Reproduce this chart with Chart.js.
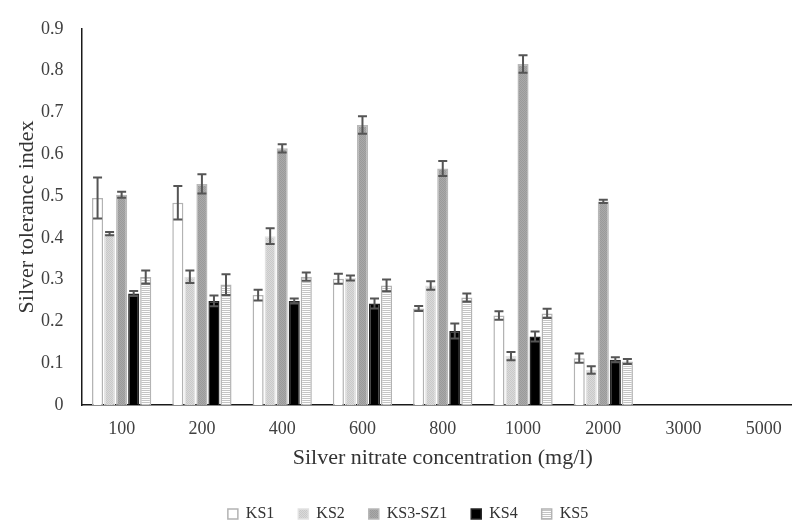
<!DOCTYPE html>
<html>
<head>
<meta charset="utf-8">
<script src="https://cdn.jsdelivr.net/npm/chart.js@4"></script>
<style>
  body { margin: 0; background: #fff; }
  #wrap { width: 792px; height: 524px; overflow: hidden; }
</style>
</head>
<body>
<div id="wrap"><canvas id="grafico" width="816" height="532"></canvas></div>
<script>
// concentrações (mg/l) e índices de tolerância à prata
const concentracoes = ['100', '200', '400', '600', '800', '1000', '2000', '3000', '5000'];

const ks1 = [0.495, 0.484, 0.263, 0.302, 0.231, 0.214, 0.112, null, null];
const ks2 = [0.410, 0.307, 0.404, 0.304, 0.286, 0.117, 0.084, null, null];
const ks3 = [0.503, 0.529, 0.614, 0.670, 0.566, 0.816, 0.487, null, null];
const ks4 = [0.267, 0.249, 0.249, 0.243, 0.177, 0.164, 0.108, null, null];
const ks5 = [0.306, 0.288, 0.307, 0.286, 0.257, 0.219, 0.104, null, null];

// desvio (barras de erro)
const ks1Erro = [0.049, 0.040, 0.013, 0.012, 0.006, 0.010, 0.011];
const ks2Erro = [0.004, 0.015, 0.019, 0.006, 0.010, 0.010, 0.009];
const ks3Erro = [0.007, 0.023, 0.010, 0.021, 0.018, 0.021, 0.004];
const ks4Erro = [0.006, 0.013, 0.006, 0.012, 0.018, 0.012, 0.006];
const ks5Erro = [0.016, 0.025, 0.010, 0.014, 0.010, 0.011, 0.006];

const yMax = 0.9;
const yPasso = 0.1;

const fonte = "'Liberation Serif', 'Times New Roman', serif";

function criarPadrao(w, h, desenhar) {
  const c = document.createElement('canvas');
  c.width = w;
  c.height = h;
  desenhar(c.getContext('2d'));
  return c.getContext('2d').createPattern(c, 'repeat');
}

const ctx = document.getElementById('grafico').getContext('2d');

// pontilhado claro
const padraoKs2 = criarPadrao(2, 2, g => {
  g.fillStyle = '#dadada'; g.fillRect(0, 0, 2, 2);
  g.fillStyle = '#c9c9c9'; g.fillRect(0, 0, 1, 1); g.fillRect(1, 1, 1, 1);
});
// pontilhado médio
const padraoKs3 = criarPadrao(2, 2, g => {
  g.fillStyle = '#a9a9a9'; g.fillRect(0, 0, 2, 2);
  g.fillStyle = '#9a9a9a'; g.fillRect(0, 0, 1, 1); g.fillRect(1, 1, 1, 1);
});
// listras horizontais
const padraoKs5 = criarPadrao(2, 2, g => {
  g.fillStyle = '#ffffff'; g.fillRect(0, 0, 2, 2);
  g.fillStyle = '#c4c4c4'; g.fillRect(0, 0, 2, 1);
});

// desenha as barras de erro por cima das colunas
const barrasErro = {
  id: 'barrasErro',
  afterDatasetsDraw(chart) {
    const c = chart.ctx;
    const escalaY = chart.scales.y;
    c.save();
    c.strokeStyle = '#555555';
    c.lineWidth = 2;
    chart.data.datasets.forEach((ds, i) => {
      const meta = chart.getDatasetMeta(i);
      meta.data.forEach((barra, j) => {
        const v = ds.data[j];
        const e = ds.erro[j];
        if (v == null || e == null) return;
        const x = barra.x;
        const yTopo = escalaY.getPixelForValue(v + e);
        const yBase = escalaY.getPixelForValue(v - e);
        c.beginPath();
        c.moveTo(x, yTopo); c.lineTo(x, yBase);
        c.moveTo(x - 4.5, yTopo); c.lineTo(x + 4.5, yTopo);
        c.moveTo(x - 4.5, yBase); c.lineTo(x + 4.5, yBase);
        c.stroke();
      });
    });
    c.restore();
  }
};

new Chart(ctx, {
  type: 'bar',
  data: {
    labels: concentracoes,
    datasets: [
      { label: 'KS1', data: ks1, erro: ks1Erro, backgroundColor: '#ffffff', borderColor: '#b3b3b3', borderWidth: 1.5 },
      { label: 'KS2', data: ks2, erro: ks2Erro, backgroundColor: padraoKs2, borderColor: '#e2e2e2', borderWidth: 1.5 },
      { label: 'KS3-SZ1', data: ks3, erro: ks3Erro, backgroundColor: padraoKs3, borderColor: '#b8b8b8', borderWidth: 1.5 },
      { label: 'KS4', data: ks4, erro: ks4Erro, backgroundColor: '#000000', borderColor: '#262626', borderWidth: 1.5 },
      { label: 'KS5', data: ks5, erro: ks5Erro, backgroundColor: padraoKs5, borderColor: '#b3b3b3', borderWidth: 1.5 }
    ]
  },
  options: {
    responsive: false,
    animation: false,
    devicePixelRatio: 1,
    layout: { padding: { top: 21, right: 12, bottom: 0, left: 12 } },
    datasets: {
      bar: { categoryPercentage: 0.75, barPercentage: 0.92 }
    },
    plugins: {
      legend: {
        position: 'bottom',
        labels: {
          boxWidth: 10,
          boxHeight: 10,
          padding: 24,
          color: '#333333',
          font: { family: fonte, size: 16 }
        }
      },
      tooltip: { enabled: false }
    },
    scales: {
      x: {
        grid: { display: false, drawTicks: false },
        border: { display: true, color: '#1a1a1a', width: 1.5 },
        ticks: {
          color: '#404040',
          padding: 13,
          autoSkip: false,
          maxRotation: 0,
          font: { family: fonte, size: 18 }
        },
        title: {
          display: true,
          text: 'Silver nitrate concentration (mg/l)',
          color: '#333333',
          padding: { top: 0, bottom: 11 },
          font: { family: fonte, size: 22 }
        },
        afterFit: s => { s.height = 77; }
      },
      y: {
        min: 0,
        max: yMax,
        grid: { display: false, drawTicks: false },
        border: { display: true, color: '#1a1a1a', width: 1.5 },
        ticks: {
          stepSize: yPasso,
          color: '#404040',
          padding: 18,
          font: { family: fonte, size: 18 },
          callback: v => +v.toFixed(1)
        },
        title: {
          display: true,
          text: 'Silver tolerance index',
          color: '#333333',
          padding: { top: 2, bottom: 0 },
          font: { family: fonte, size: 22 }
        },
        afterFit: s => { s.width = 69.5; }
      }
    }
  },
  plugins: [barrasErro]
});
</script>
</body>
</html>
